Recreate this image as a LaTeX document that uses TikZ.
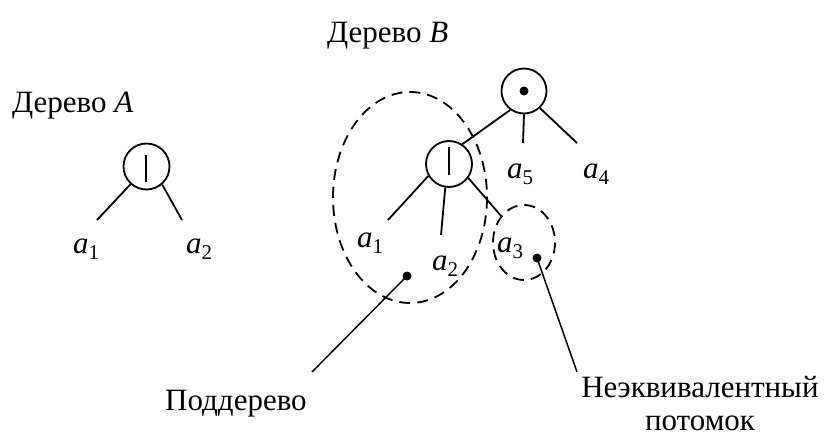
\documentclass[tikz,border=0pt]{standalone}
\usepackage{fontspec}
\setmainfont{Liberation Serif}
\newcommand\asub[1]{\textit{a}\raisebox{-6pt}{\fontsize{21}{21}\selectfont #1}}
\begin{document}
\begin{tikzpicture}[x=1pt,y=-1pt,
  every node/.style={inner sep=0pt,font=\fontsize{31}{36}\selectfont},
  opcircle/.style={circle,draw,line width=1.8pt,minimum size=46pt},
  edge/.style={line width=1.8pt},
  dashring/.style={draw,line width=1.8pt,dash pattern=on 11pt off 7pt},
  dotmark/.style={circle,fill,minimum size=9pt},
  leader/.style={line width=1.5pt}]
\useasboundingbox (0,0) rectangle (827,439);
% titles
\node[anchor=base west] (tA) at (12,112) {Дерево \textit{A}};
\node[anchor=base west] (tB) at (327,42) {Дерево \textit{B}};
% tree A
\node[opcircle] (A) at (146.5,166.5) {};
\draw[edge] (146,155) -- (146,182);
\coordinate (A1e) at (97,220);
\coordinate (A2e) at (182,220);
\draw[edge] (A.228) -- (A1e);
\draw[edge] (A.311) -- (A2e);
\node[anchor=base west] (a1A) at (73,253) {\asub{1}};
\node[anchor=base west] (a2A) at (186,253) {\asub{2}};
% tree B
\node[opcircle,minimum size=45pt] (T) at (524,91) {};
\node[dotmark] (Tdot) at (524,91) {};
\node[opcircle] (I) at (449,164) {};
\draw[edge] (449,147) -- (449,175);
\coordinate (T5e) at (523,143);
\coordinate (T4e) at (577,143);
\draw[edge] (T.234) -- (I.56);
\draw[edge] (T.270) -- (T5e);
\draw[edge] (T.313) -- (T4e);
\node[anchor=base west] (a5) at (507,178) {\asub{5}};
\node[anchor=base west] (a4) at (583,178) {\asub{4}};
\coordinate (I1e) at (388,220);
\coordinate (I2e) at (441,235);
\coordinate (I3e) at (502,217);
\draw[edge] (I.210) -- (I1e);
\draw[edge] (I.261) -- (I2e);
\draw[edge] (I.324) -- (I3e);
\node[anchor=base west] (a1B) at (357,247) {\asub{1}};
\node[anchor=base west] (a2B) at (432,270) {\asub{2}};
\node[anchor=base west] (a3B) at (497,252) {\asub{3}};
% dashed regions
\draw[dashring] (410,197.5) ellipse [x radius=77, y radius=105.5];
\draw[dashring] (524,242.5) ellipse [x radius=31, y radius=37.5];
\node[dotmark] (d1) at (407,276) {};
\node[dotmark] (d2) at (537,258) {};
% labels
\node[anchor=base west] (lsub) at (165,410) {Поддерево};
\node[anchor=base,align=center,font=\fontsize{31}{33}\selectfont] (lneq) at (700,430) {Неэквивалентный\\потомок};
\coordinate (lsubEnd) at (312,372);
\coordinate (lneqEnd) at (577,372);
\draw[leader] (d1.center) -- (lsubEnd);
\draw[leader] (d2.center) -- (lneqEnd);
\end{tikzpicture}
\end{document}
